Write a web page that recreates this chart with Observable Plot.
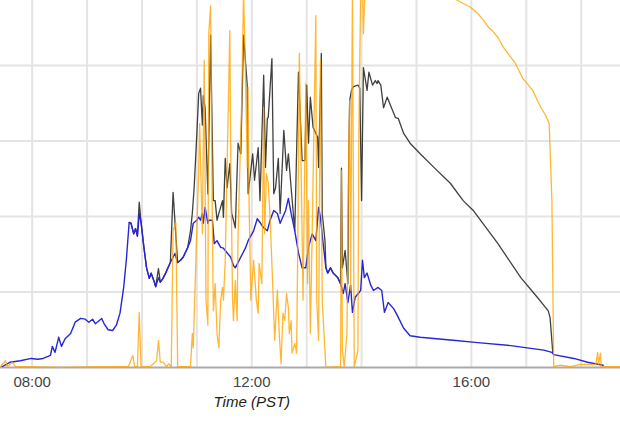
<!DOCTYPE html>
<html>
<head>
<meta charset="utf-8">
<script src="https://cdn.jsdelivr.net/npm/d3@7"></script>
<script src="https://cdn.jsdelivr.net/npm/@observablehq/plot@0.6"></script>
<style>
  html, body { margin: 0; padding: 0; background: #fff; }
  #chart { width: 620px; height: 425px; overflow: hidden; }
</style>
</head>
<body>
<div id="chart"></div>
<script>
// ---- tick / grid values ----
const xTickHours = [8, 12, 16];
const gridHours = [8, 9, 10, 11, 12, 13, 14, 15, 16, 17, 18];
const yGridValues = [100, 200, 300, 400, 500];
const axisTitle = "Time (PST)";
const axisTitleHour = 12;

// ---- series (time PST, value) ----
const blueSeries = [
  ["7:27",1],["7:36",7],["7:47",9],["7:59",12],["8:06",11],["8:12",12],["8:20",16],["8:22",28],
  ["8:25",20],["8:29",40],["8:32",28],["8:36",38],["8:42",45],["8:47",60],["8:53",65],["8:58",64],
  ["9:02",60],["9:06",64],["9:09",58],["9:12",61],["9:16",65],["9:19",57],["9:23",50],["9:28",49],
  ["9:32",56],["9:36",72],["9:40",106],["9:43",144],["9:46",192],["9:48",191],["9:51",177],["9:53",184],
  ["9:55",174],["9:57",204],["9:59",192],["10:02",160],["10:05",132],["10:08",118],["10:10",125],
  ["10:13",115],["10:15",107],["10:18",119],["10:20",113],["10:23",118],["10:27",128],["10:31",139],
  ["10:34",146],["10:36",151],["10:39",139],["10:42",142],["10:45",146],["10:50",159],["10:53",168],
  ["10:56",191],["11:00",195],["11:02",199],["11:04",195],["11:06",204],["11:07",191],["11:09",212],
  ["11:12",191],["11:13",195],["11:17",195],["11:19",164],["11:22",168],["11:26",159],["11:29",158],
  ["11:33",152],["11:37",146],["11:40",135],["11:42",132],["11:50",151],["11:53",158],["11:56",168],
  ["12:02",181],["12:06",197],["12:09",192],["12:13",185],["12:17",181],["12:20",195],["12:24",208],
  ["12:28",204],["12:31",191],["12:37",208],["12:40",224],["12:43",204],["12:47",181],["12:51",152],
  ["12:55",132],["12:59",132],["13:02",159],["13:06",177],["13:10",168],["13:13",212],["13:15",199],
  ["13:18",164],["13:21",132],["13:23",125],["13:26",132],["13:29",125],["13:34",119],["13:37",111],
  ["13:40",98],["13:42",111],["13:45",86],["13:48",109],["13:50",73],["13:53",93],["13:59",102],
  ["14:01",142],["14:03",119],["14:06",125],["14:10",109],["14:13",102],["14:18",106],["14:22",102],
  ["14:25",73],["14:29",86],["14:35",78],["14:39",69],["14:46",52],["14:53",42],["15:04",40],
  ["15:40",36],["16:07",33],["16:43",29],["17:19",23],["17:28",20],["17:30",17],["17:52",12],
  ["18:07",7],["18:24",3]
];

const blackSeries = [
  ["9:46",192],["9:48",191],["9:51",177],["9:53",184],["9:55",174],["9:57",219],["9:59",192],
  ["10:02",160],["10:05",132],["10:08",118],["10:10",125],["10:13",115],["10:15",107],["10:18",131],
  ["10:20",113],["10:23",118],["10:27",128],["10:31",139],["10:34",232],["10:37",175],["10:39",139],
  ["10:42",142],["10:45",146],["10:50",159],["10:53",181],["10:55",204],["10:57",238],["11:00",310],
  ["11:02",363],["11:04",370],["11:06",321],["11:07",360],["11:09",344],["11:12",230],["11:15",440],
  ["11:18",221],["11:20",221],["11:22",195],["11:24",204],["11:28",221],["11:29",199],["11:31",277],
  ["11:33",238],["11:36",270],["11:38",204],["11:40",195],["11:42",185],["11:45",297],["11:48",283],
  ["11:51",440],["11:55",374],["11:56",230],["12:01",283],["12:03",248],["12:07",291],["12:09",221],
  ["12:13",387],["12:15",265],["12:17",330],["12:18",331],["12:22",409],["12:24",230],["12:26",238],
  ["12:29",277],["12:31",204],["12:35",314],["12:38",261],["12:40",283],["12:43",238],["12:47",181],
  ["12:51",391],["12:55",274],["12:58",274],["13:00",374],["13:02",297],["13:04",358],["13:07",318],
  ["13:12",305],["13:13",265],["13:16",416],["13:17",204],["13:20",168],["13:21",132],["13:23",125],
  ["13:26",132],["13:29",125],["13:34",119],["13:37",111],["13:38",264],["13:39",132],["13:42",155],
  ["13:45",111],["13:46",283],["13:47",354],["13:49",367],["13:51",372],["13:56",374],["13:58",370],
  ["14:00",221],["14:02",397],["14:06",367],["14:08",391],["14:12",374],["14:15",380],["14:17",376],
  ["14:18",380],["14:21",374],["14:24",344],["14:28",358],["14:34",340],["14:37",331],["14:40",330],
  ["14:46",310],["14:53",297],["15:04",283],["15:19",265],["15:37",244],["15:51",221],["16:02",208],
  ["16:29",164],["16:54",119],["17:12",93],["17:24",75],["17:26",66],["17:29",19],["17:30",17]
];

const orangeSeries = [
  ["7:25",1],["7:31",9],["7:33",1],["7:38",7],["7:42",1],["7:53",1],["8:31",0],["9:15",1],
  ["9:45",1],["9:50",16],["9:52",1],["9:55",1],["9:57",73],["9:59",1],["10:09",1],["10:16",9],
  ["10:18",36],["10:20",7],["10:23",7],["10:27",1],["10:29",5],["10:32",1],["10:34",181],["10:37",192],
  ["10:39",1],["10:51",1],["10:53",1],["10:55",45],["10:56",26],["10:58",106],["11:02",261],
  ["11:03",323],["11:06",177],["11:08",407],["11:10",89],["11:12",56],["11:13",442],["11:15",479],
  ["11:17",177],["11:18",75],["11:20",111],["11:22",45],["11:24",26],["11:26",89],["11:28",106],
  ["11:29",89],["11:31",142],["11:33",265],["11:36",446],["11:37",278],["11:39",89],["11:40",62],
  ["11:42",115],["11:44",62],["11:45",177],["11:49",354],["11:51",500],["11:53",397],["11:55",265],
  ["11:56",371],["11:57",221],["11:59",89],["12:02",142],["12:05",89],["12:07",72],["12:08",138],
  ["12:11",111],["12:13",344],["12:14",177],["12:16",257],["12:18",244],["12:20",199],["12:23",106],
  ["12:25",36],["12:28",102],["12:30",45],["12:32",5],["12:34",72],["12:36",62],["12:38",98],
  ["12:40",79],["12:41",45],["12:43",62],["12:44",19],["12:47",32],["12:49",19],["12:50",132],
  ["12:52",416],["12:53",331],["12:55",177],["12:56",89],["12:59",376],["13:01",111],["13:02",221],
  ["13:04",45],["13:06",177],["13:10",466],["13:11",89],["13:13",36],["13:15",407],["13:17",89],
  ["13:18",66],["13:21",0],["13:37",1],["13:38",261],["13:39",23],["13:41",0],["13:44",45],
  ["13:46",297],["13:47",354],["13:48",102],["13:50",500],["13:52",0],["13:56",23],["13:57",310],
  ["13:59",500],["14:01",500],["14:02",442],["14:04",512],["14:21",552],["14:42",532],["15:04",515],
  ["15:26",499],["15:45",486],["15:51",482],["15:59",477],["16:07",469],["16:13",460],["16:19",450],
  ["16:23",446],["16:29",437],["16:35",424],["16:43",411],["16:48",403],["16:56",383],["17:01",376],
  ["17:07",367],["17:16",344],["17:21",334],["17:25",323],["17:28",221],["17:30",1],["17:37",3],
  ["17:48",1],["17:59",4],["18:10",4],["18:16",4],["18:18",20],["18:19",4],["18:21",19],["18:22",1],
  ["18:32",1],["18:43",1]
];

const parseTime = t => { const [h, m] = t.split(":").map(Number); return h + m / 60; };
const toRows = arr => arr.map(([t, v]) => ({h: parseTime(t), v}));
const blue = toRows(blueSeries);
const black = toRows(blackSeries);
const orange = toRows(orangeSeries);
const fmtHour = h => `${String(h).padStart(2, "0")}:00`;

const chart = Plot.plot({
  width: 620,
  height: 425,
  marginLeft: 0,
  marginRight: 0,
  marginTop: 0,
  marginBottom: 58,
  x: {domain: [7.423, 18.716], axis: null},
  y: {domain: [0, 486], axis: null},
  style: {fontFamily: "'Liberation Sans', Arial, sans-serif", fontSize: "15px", background: "#fff", overflow: "hidden"},
  marks: [
    Plot.ruleX(gridHours, {stroke: "#e4e4e4", strokeWidth: 2}),
    Plot.ruleY(yGridValues, {stroke: "#e4e4e4", strokeWidth: 2, clip: true}),
    Plot.ruleY([0], {stroke: "#aaaaaa", strokeWidth: 2}),
    Plot.axisX(xTickHours, {tickSize: 0, tickPadding: 9, tickFormat: fmtHour, fill: "#444", fontSize: 15, label: null}),
    Plot.line(black, {x: "h", y: "v", stroke: "#1e1e1e", strokeOpacity: 0.85, strokeWidth: 1.3, clip: true}),
    Plot.line(blue, {x: "h", y: "v", stroke: "#2626d8", strokeWidth: 1.4, clip: true}),
    Plot.line(orange, {x: "h", y: "v", stroke: "#ffa500", strokeOpacity: 0.8, strokeWidth: 1.3, clip: true}),
    Plot.text([axisTitle], {x: () => axisTitleHour, frameAnchor: "bottom", dy: 29, lineAnchor: "top",
      text: d => d, fontStyle: "italic", fill: "#222", fontSize: 15})
  ]
});
document.getElementById("chart").appendChild(chart);
</script>
</body>
</html>
